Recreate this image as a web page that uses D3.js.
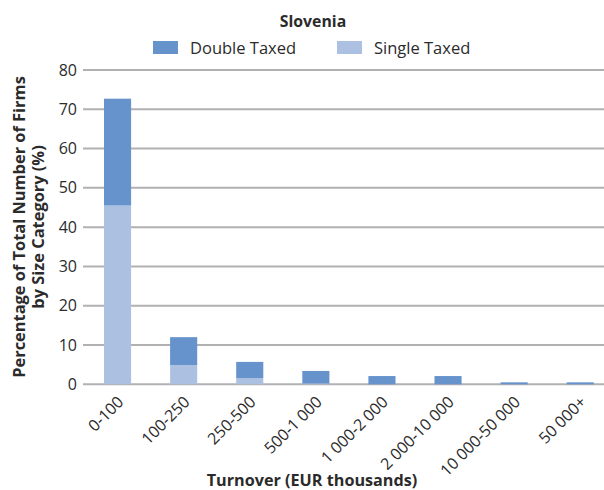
<!DOCTYPE html>
<html>
<head>
<meta charset="utf-8">
<script src="https://cdn.jsdelivr.net/npm/d3@7"></script>
<style>
  body { margin: 0; background: #fff; }
  svg { display: block; font-family: "Open Sans", "Noto Sans", sans-serif; }
</style>
</head>
<body>
<svg id="chart" width="604" height="490"></svg>
<script>
const title = "Slovenia";
const categories = ["0-100", "100-250", "250-500", "500-1 000", "1 000-2 000", "2 000-10 000", "10 000-50 000", "50 000+"];
const singleTaxed = [45.5, 4.9, 1.6, 0.2, 0, 0, 0, 0];
const doubleTaxed = [27.2, 7.1, 4.1, 3.2, 2.1, 2.1, 0.5, 0.5];
const seriesNames = ["Double Taxed", "Single Taxed"];
const yTicks = [0, 10, 20, 30, 40, 50, 60, 70, 80];
const xTitle = "Turnover (EUR thousands)";
const yTitleLines = ["Percentage of Total Number of Firms", "by Size Category (%)"];

const colors = { "Double Taxed": "#6693cc", "Single Taxed": "#acc0e1" };
const textColor = "#2b2b2b";
const gridColor = "#b1b1b4";

const svg = d3.select("#chart");
const W = 604, H = 490;

const x = d3.scaleBand().domain(categories).range([84.5, 613.3]).paddingInner(0.59).paddingOuter(0.295);
const y = d3.scaleLinear().domain([0, 80]).range([384.3, 70]);

// gridlines
svg.append("g").selectAll("line").data(yTicks).join("line")
  .attr("x1", 83).attr("x2", W)
  .attr("y1", d => y(d)).attr("y2", d => y(d))
  .attr("stroke", gridColor).attr("stroke-width", 2);

// y tick labels via axis
const yAxis = svg.append("g").attr("transform", "translate(83,0)")
  .call(d3.axisLeft(y).tickValues(yTicks).tickSize(0).tickPadding(6));
yAxis.select(".domain").remove();
yAxis.selectAll("text").attr("font-size", 16).attr("fill", textColor).attr("font-family", "Open Sans, sans-serif");

// stacked data
const rows = categories.map((c, i) => ({ cat: c, "Single Taxed": singleTaxed[i], "Double Taxed": doubleTaxed[i] }));
const stack = d3.stack().keys(["Single Taxed", "Double Taxed"]);
const stacked = stack(rows);

svg.append("g").selectAll("g").data(stacked).join("g")
  .attr("fill", d => colors[d.key])
  .selectAll("rect").data(d => d).join("rect")
  .attr("x", d => x(d.data.cat))
  .attr("width", x.bandwidth())
  .attr("y", d => y(d[1]))
  .attr("height", d => Math.max(0, y(d[0]) - y(d[1])));

// x tick labels
const xAxis = svg.append("g").attr("transform", "translate(0,384)")
  .call(d3.axisBottom(x).tickSize(0).tickPadding(0));
xAxis.select(".domain").remove();
xAxis.selectAll("text")
  .attr("font-size", 16).attr("fill", textColor).attr("font-family", "Open Sans, sans-serif")
  .attr("text-anchor", "end")
  .attr("dy", null).attr("y", 0).attr("x", 0)
  .attr("transform", "translate(7,19) rotate(-45)");

// axis titles
svg.append("text").attr("x", 312).attr("y", 486).attr("text-anchor", "middle")
  .attr("font-size", 16.2).attr("font-weight", "bold").attr("fill", textColor).text(xTitle);

const yt = svg.append("text").attr("transform", "translate(0,227) rotate(-90)")
  .attr("text-anchor", "middle").attr("font-size", 16.4).attr("font-weight", "bold").attr("fill", textColor);
yTitleLines.forEach((l, i) => yt.append("tspan").attr("x", 0).attr("y", 25 + i * 19).text(l));

// title
svg.append("text").attr("x", 313).attr("y", 27).attr("text-anchor", "middle")
  .attr("font-size", 15.8).attr("font-weight", "bold").attr("fill", textColor).text(title);

// legend
const legendX = [153, 337];
const lg = svg.append("g").selectAll("g").data(seriesNames).join("g")
  .attr("transform", (d, i) => `translate(${legendX[i]},41)`);
lg.append("rect").attr("width", 25).attr("height", 13).attr("fill", d => colors[d]);
lg.append("text").attr("x", 37).attr("y", 13).attr("font-size", 16.5).attr("fill", textColor).text(d => d);
</script>
</body>
</html>
